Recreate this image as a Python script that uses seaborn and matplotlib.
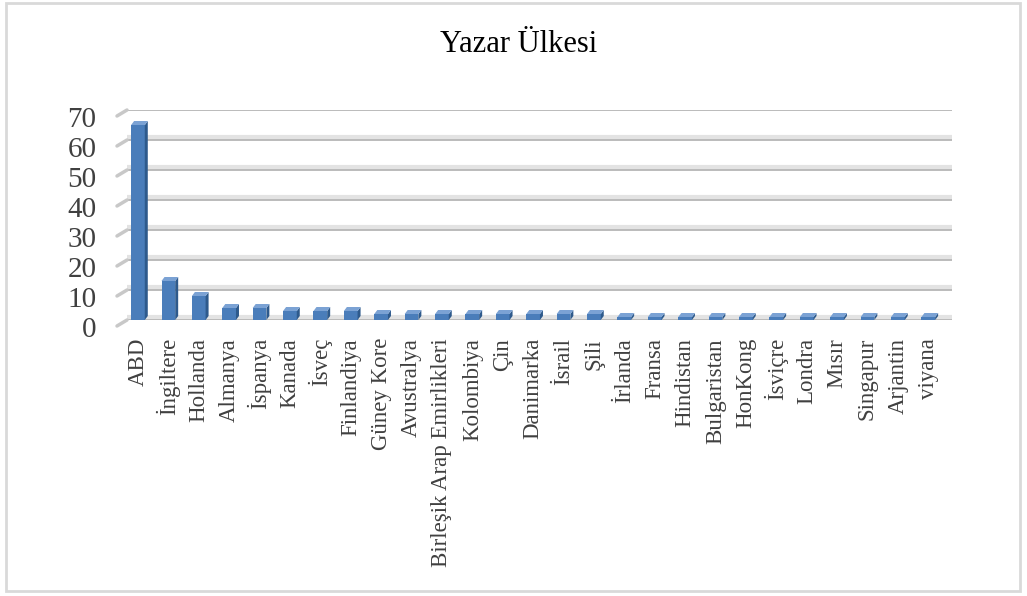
import pandas as pd
import matplotlib.pyplot as plt
import matplotlib.patheffects as pe
import matplotlib.transforms as mtrans
from matplotlib.patches import Polygon, Rectangle
import seaborn as sns

# Values
countries = ['ABD', 'İngiltere', 'Hollanda', 'Almanya', 'İspanya', 'Kanada', 'İsveç',
             'Finlandiya', 'Güney Kore', 'Avustralya', 'Birleşik Arap Emirlikleri',
             'Kolombiya', 'Çin', 'Danimarka', 'İsrail', 'Şili', 'İrlanda', 'Fransa',
             'Hindistan', 'Bulgaristan', 'HonKong', 'İsviçre', 'Londra', 'Mısır',
             'Singapur', 'Arjantin', 'viyana']
counts = [65, 13, 8, 4, 4, 3, 3, 3, 2, 2, 2, 2, 2, 2, 2, 2,
          1, 1, 1, 1, 1, 1, 1, 1, 1, 1, 1]
y_ticks = [0, 10, 20, 30, 40, 50, 60, 70]

df = pd.DataFrame({'ulke': countries, 'sayi': counts})

sns.set_style('white')
plt.rcParams['font.family'] = ['Liberation Serif', 'DejaVu Serif']

W, H = 1027, 596
fig = plt.figure(figsize=(W / 100, H / 100), dpi=100)
ax = fig.add_axes([127 / W, 1 - 320 / H, 825 / W, 210 / H])

front = '#4A7DBA'
side = '#2E5A8C'
top = '#7BA2D4'

sns.barplot(data=df, x='ulke', y='sayi', order=countries, color=front,
            width=0.45, saturation=1, ax=ax, zorder=3)

ax.set_ylim(0, 70)
ax.set_xlim(-0.36, 26.78)

# fake 3d depth, derived from the drawn bars
dx = 3.0 / 30.4
dy = 4.0 * 70 / 210
for p in list(ax.patches):
    x0, w, h = p.get_x(), p.get_width(), p.get_height()
    p.set_edgecolor('none')
    ax.add_patch(Polygon([(x0 + w, 0), (x0 + w + dx, dy), (x0 + w + dx, h + dy), (x0 + w, h)],
                         closed=True, facecolor=side, edgecolor='none', zorder=3, clip_on=False))
    ax.add_patch(Polygon([(x0, h), (x0 + w, h), (x0 + w + dx, h + dy), (x0 + dx, h + dy)],
                         closed=True, facecolor=top, edgecolor='none', zorder=3, clip_on=False))

# gridlines with a soft shadow
ax.set_yticks(y_ticks)
ax.yaxis.grid(True, color='#A8A8A8', linewidth=1.1, zorder=0,
              path_effects=[pe.SimpleLineShadow(offset=(0, 2), shadow_color='#E3E3E3',
                                                alpha=1, linewidth=3), pe.Normal()])
ax.xaxis.grid(False)
for t in y_ticks:
    ax.annotate('', xy=(0, t), xycoords=ax.get_yaxis_transform(),
                xytext=(-10, -6), textcoords='offset pixels',
                arrowprops=dict(arrowstyle='-', color='#C8C8C8', lw=2.5,
                                shrinkA=0, shrinkB=0))

for s in ax.spines.values():
    s.set_visible(False)

ax.set_xlabel('')
ax.set_ylabel('')
ax.tick_params(axis='y', length=0, pad=22, labelsize=21, labelcolor='#404040')
ax.tick_params(axis='x', length=0, pad=13, labelsize=16.5, labelcolor='#404040')
plt.setp(ax.get_xticklabels(), rotation=90)

# y labels sit a little lower than the gridlines in the reference
shift = mtrans.ScaledTranslation(0, -7 / 100, fig.dpi_scale_trans)
for lab in ax.get_yticklabels():
    lab.set_transform(lab.get_transform() + shift)

fig.text(0.505, 1 - 45 / H, 'Yazar Ülkesi', ha='center', va='center',
         fontsize=22, color='black')

fig.patches.append(Rectangle((6 / W, 5 / H), 1014 / W, 588 / H, transform=fig.transFigure,
                             fill=False, edgecolor='#D9D9D9', linewidth=2))

fig.savefig('out.png', dpi=100)
